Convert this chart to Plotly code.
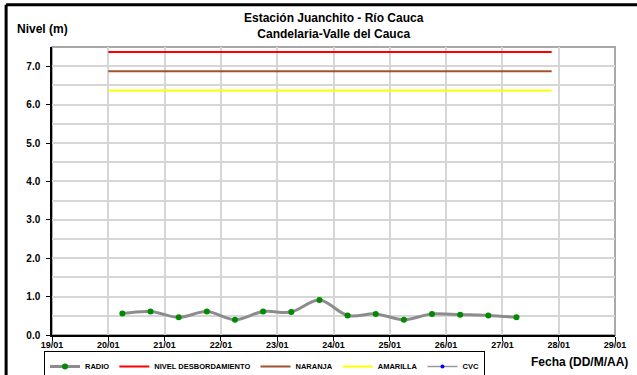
import plotly.graph_objects as go

# Lecturas de nivel (m), estación Juanchito - Río Cauca
radio_fechas = [
    "2012-01-20 06:00", "2012-01-20 18:00", "2012-01-21 06:00", "2012-01-21 18:00",
    "2012-01-22 06:00", "2012-01-22 18:00", "2012-01-23 06:00", "2012-01-23 18:00",
    "2012-01-24 06:00", "2012-01-24 18:00", "2012-01-25 06:00", "2012-01-25 18:00",
    "2012-01-26 06:00", "2012-01-26 18:00", "2012-01-27 06:00",
]
radio_nivel = [0.56, 0.61, 0.46, 0.61, 0.40, 0.61, 0.60, 0.91,
               0.51, 0.55, 0.40, 0.55, 0.53, 0.51, 0.46]

# Umbrales de alerta
umbral_fechas = ["2012-01-20 00:00", "2012-01-27 21:00"]
nivel_desbordamiento = 7.37
nivel_naranja = 6.87
nivel_amarilla = 6.37

# Eje X: un día por marca
dias = ["2012-01-%02d" % d for d in range(19, 30)]
dias_texto = ["%02d/01" % d for d in range(19, 30)]

FONT = "Liberation Sans, Arial, sans-serif"

fig = go.Figure()

fig.add_trace(go.Scatter(
    x=radio_fechas, y=radio_nivel, name="RADIO", mode="lines+markers",
    line=dict(color="#8c8c8c", width=3, shape="spline", smoothing=1),
    marker=dict(color="#008a00", size=6),
))
fig.add_trace(go.Scatter(
    x=umbral_fechas, y=[nivel_desbordamiento] * 2, name="NIVEL DESBORDAMIENTO",
    mode="lines", line=dict(color="#ff0000", width=2),
))
fig.add_trace(go.Scatter(
    x=umbral_fechas, y=[nivel_naranja] * 2, name="NARANJA",
    mode="lines", line=dict(color="#a0522d", width=2),
))
fig.add_trace(go.Scatter(
    x=umbral_fechas, y=[nivel_amarilla] * 2, name="AMARILLA",
    mode="lines", line=dict(color="#ffff00", width=2),
))
fig.add_trace(go.Scatter(
    x=[None], y=[None], name="CVC", mode="lines+markers",
    line=dict(color="#9a9a9a", width=1.5),
    marker=dict(color="#0000ff", size=4),
))

grid = "#d6d6d6"
fig.update_xaxes(
    type="date", range=[dias[0], dias[-1]],
    tickvals=dias, ticktext=dias_texto,
    showgrid=True, gridcolor=grid, gridwidth=2,
    showline=True, linecolor="black", linewidth=1.5,
    ticks="outside", ticklen=4, tickcolor="black",
    tickfont=dict(family=FONT, size=9, color="black", weight="bold"),
    ticklabelstandoff=-4,
    zeroline=False, automargin=False,
)
fig.update_yaxes(
    range=[0, 7.5], dtick=1.0, tick0=0, tickformat=".1f",
    showgrid=True, gridcolor=grid, gridwidth=2,
    minor=dict(dtick=0.5, showgrid=True, gridcolor=grid, gridwidth=2),
    showline=True, linecolor="black", linewidth=1.5,
    ticks="outside", ticklen=4, tickcolor="black",
    tickfont=dict(family=FONT, size=10, color="black", weight="bold"),
    ticklabelstandoff=4,
    zeroline=False, automargin=False,
)

shapes = [
    # marco gris superior/derecho del área de trazado
    dict(type="rect", xref="paper", yref="paper", x0=0, x1=1, y0=0, y1=1,
         line=dict(color="#a8a8a8", width=2), layer="below"),
    # marco negro de la figura
    dict(type="line", xref="paper", yref="paper", x0=-0.0815, x1=-0.0815,
         y0=-0.2, y1=1.147, line=dict(color="black", width=3)),
    dict(type="line", xref="paper", yref="paper", x0=-0.0815, x1=1.1,
         y0=1.147, y1=1.147, line=dict(color="black", width=3)),
]

annotations = [
    dict(text="Estación Juanchito - Río Cauca<br>Candelaria-Valle del Cauca",
         xref="paper", yref="paper", x=0.5, y=1.0, yshift=21, yanchor="middle",
         showarrow=False,
         font=dict(family=FONT, size=12, color="black", weight="bold")),
    dict(text="Nivel (m)", xref="paper", yref="paper", x=-0.065, y=1.0, yshift=18,
         xanchor="left", yanchor="middle", showarrow=False,
         font=dict(family=FONT, size=12, color="black", weight="bold")),
    dict(text="Fecha (DD/M/AA)", xref="paper", yref="paper", x=1.0, y=0, yshift=-27,
         xanchor="right", xshift=15, yanchor="middle", showarrow=False,
         font=dict(family=FONT, size=12, color="black", weight="bold")),
]

fig.update_layout(
    width=637, height=375,
    margin=dict(l=52, r=22, t=47, b=40, autoexpand=False),
    paper_bgcolor="white", plot_bgcolor="white",
    showlegend=True,
    legend=dict(
        orientation="h", xref="container", yref="container",
        x=44 / 637, y=1 - 351 / 375, xanchor="left", yanchor="top",
        bgcolor="white", bordercolor="black", borderwidth=1,
        font=dict(family=FONT, size=7.5, color="black", weight="bold"),
        tracegroupgap=0, itemwidth=30,
    ),
    shapes=shapes,
    annotations=annotations,
)

fig.write_html("out.html")
